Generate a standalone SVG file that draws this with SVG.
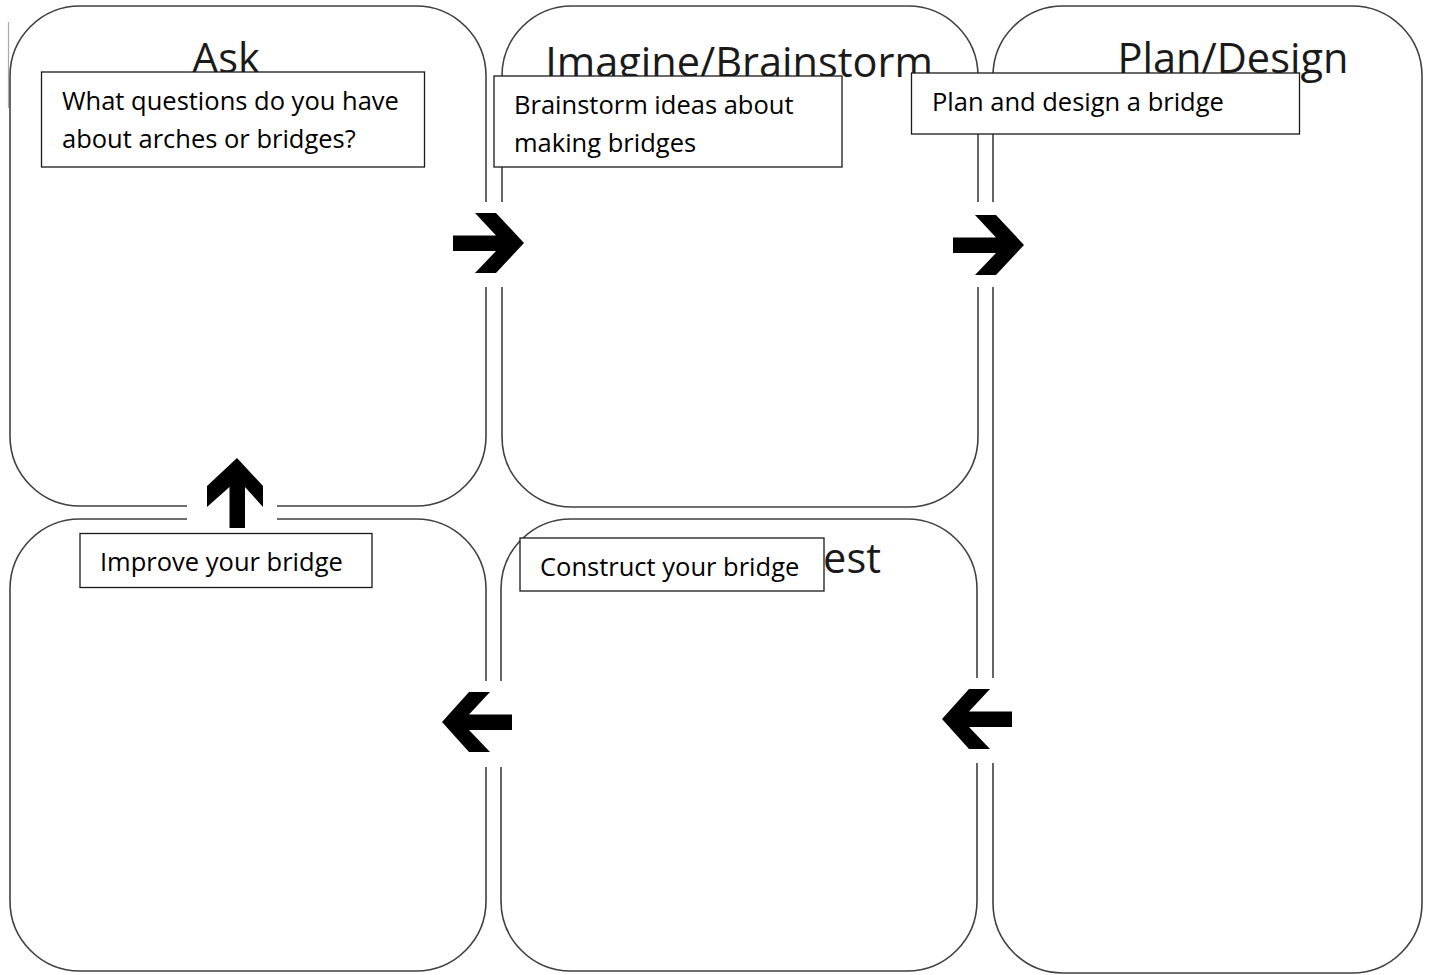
<svg xmlns="http://www.w3.org/2000/svg" width="1429" height="975" viewBox="0 0 1429 975">
<style>
.stage{fill:#fff;stroke:#404040;stroke-width:1.6}
.title{font-family:"Open Sans","Noto Sans",sans-serif;font-size:41.5px;fill:#1a1a1a}
.note{fill:#fff;stroke:#1a1a1a;stroke-width:1.3}
.nt{font-family:"Open Sans","Noto Sans",sans-serif;font-size:25.5px;fill:#000}
.gap{fill:#fff;stroke:none}
.arr{fill:#000}
</style>
<rect x="0" y="0" width="1429" height="975" fill="#fff"/>
<line x1="8.5" y1="22" x2="8.5" y2="108" stroke="#aaa" stroke-width="1.2"/>
<g id="node-plan">
<rect class="stage" x="993" y="6" width="429" height="967" rx="70" ry="70"/>
<text class="title" x="1233" y="73" text-anchor="middle">Plan/Design</text>
</g>
<g id="node-ask">
<rect class="stage" x="10" y="6" width="476" height="500" rx="70" ry="70"/>
<text class="title" x="226" y="73" text-anchor="middle">Ask</text>
</g>
<g id="node-imagine">
<rect class="stage" x="502" y="6" width="476" height="501" rx="70" ry="70"/>
<text class="title" x="739" y="77" text-anchor="middle">Imagine/Brainstorm</text>
</g>
<g id="node-improve">
<rect class="stage" x="10" y="519" width="476" height="452" rx="70" ry="70"/>
</g>
<g id="node-test">
<rect class="stage" x="501" y="519" width="476" height="452" rx="70" ry="70"/>
<text class="title" x="881" y="573" text-anchor="end">Test</text>
</g>
<g id="connectors">
<rect class="gap" x="480" y="202" width="28" height="85"/>
<rect class="gap" x="970" y="202" width="30" height="85"/>
<rect class="gap" x="480" y="681" width="28" height="86"/>
<rect class="gap" x="970" y="678" width="30" height="85"/>
<rect class="gap" x="187" y="500" width="90" height="25"/>
<polygon class="arr" points="453,235.5 496,235.5 475,213 496,213 524,243 496,273 475,273 496,251 453,251"/>
<polygon class="arr" points="953,237.5 996,237.5 975,215 996,215 1024,245 996,275 975,275 996,253 953,253"/>
<polygon class="arr" points="512,714.5 469,714.5 490,692 469,692 442,722 469,752 490,752 469,730 512,730"/>
<polygon class="arr" points="1012,711.5 969,711.5 990,689 969,689 942,719 969,749 990,749 969,727 1012,727"/>
<polygon class="arr" points="229.5,528 229.5,487 207,507 207,486 237,458 263,486 263,507 245,487 245,528"/>
</g>
<g id="note-ask">
<rect class="note" x="41.5" y="72" width="383" height="95"/>
<text class="nt" x="62" y="110">What questions do you have</text>
<text class="nt" x="62" y="148">about arches or bridges?</text>
</g>
<g id="note-imagine">
<rect class="note" x="494" y="76" width="348" height="91"/>
<text class="nt" x="514" y="114">Brainstorm ideas about</text>
<text class="nt" x="514" y="152">making bridges</text>
</g>
<g id="note-plan">
<rect class="note" x="911.5" y="73" width="388" height="61"/>
<text class="nt" x="932" y="111">Plan and design a bridge</text>
</g>
<g id="note-improve">
<rect class="note" x="80" y="533.5" width="292" height="54"/>
<text class="nt" x="100" y="571">Improve your bridge</text>
</g>
<g id="note-test">
<rect class="note" x="520" y="538" width="304" height="53"/>
<text class="nt" x="540" y="576">Construct your bridge</text>
</g>
</svg>
